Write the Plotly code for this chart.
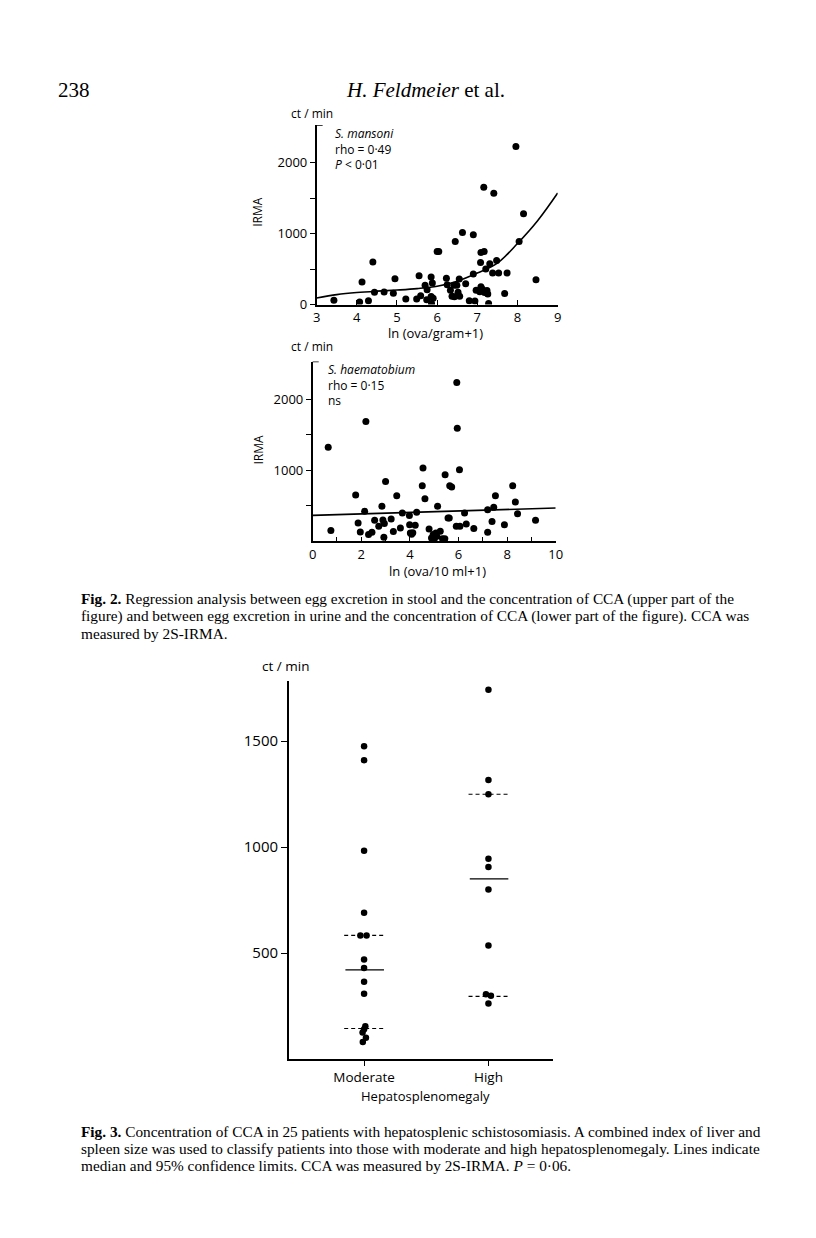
import plotly.graph_objects as go

# ---- data ----
# Fig. 2 upper: S. mansoni
x_man = [3.43, 4.07, 4.13, 4.29, 4.40, 4.44, 4.68, 4.91, 4.95, 5.22,
         5.49, 5.55, 5.59, 5.70, 5.74, 5.75, 5.85, 5.85, 5.88, 5.86, 5.90,
         6.00, 6.04, 6.23, 6.25, 6.33, 6.37, 6.42, 6.43, 6.45, 6.49, 6.52,
         6.55, 6.56, 6.63, 6.71, 6.80, 6.90, 6.90, 6.94, 6.97, 7.06, 7.09,
         7.12, 7.15, 7.18, 7.09, 7.17, 7.08, 7.21, 7.24, 7.26, 7.28, 7.31,
         7.38, 7.41, 7.16, 7.48, 7.53, 7.68, 7.74, 7.96, 8.04, 8.15, 8.46]
y_man = [60, 38, 319, 56, 600, 173, 178, 159, 365, 80,
         80, 407, 126, 271, 70, 211, 389, 113, 304, 14, 90,
         749, 749, 370, 281, 201, 117, 271, 112, 890, 271, 173,
         361, 117, 1016, 295, 56, 984, 431, 51, 201, 182, 250,
         220, 195, 170, 735, 749, 594, 501, 200, 150, 15, 576,
         445, 1569, 1653, 622, 445, 155, 445, 2225, 890, 1279, 351]
# fitted curve
fit_man_x = [3, 3.5, 4, 4.5, 5, 5.5, 6, 6.5, 7, 7.5, 8, 8.5, 9]
fit_man_y = [94, 140, 170, 190, 205, 225, 258, 330, 445, 585, 860, 1180, 1570]

# Fig. 2 lower: S. haematobium
x_hae = [0.64, 0.75, 1.77, 1.87, 1.96, 2.14, 2.19, 2.30, 2.44, 2.55,
         2.72, 2.85, 2.89, 2.95, 2.93, 3.00, 3.23, 3.32, 3.46, 3.61,
         3.69, 3.98, 3.99, 4.02, 4.07, 4.12, 4.28, 4.22, 4.51, 4.54,
         4.62, 4.79, 4.89, 4.96, 5.01, 5.07, 5.11, 5.14, 5.25, 5.34,
         5.44, 5.45, 5.57, 5.62, 5.64, 5.72, 5.91, 5.93, 5.95, 6.06,
         6.04, 6.25, 6.32, 6.63, 7.20, 7.20, 7.38, 7.45, 7.52, 7.89,
         8.23, 8.34, 8.43, 9.17]
y_hae = [1325, 150, 652, 258, 132, 422, 1686, 94, 127, 295,
         211, 492, 300, 250, 56, 843, 314, 136, 642, 187,
         398, 361, 234, 117, 100, 120, 407, 225, 783, 1030,
         600, 173, 47, 94, 37, 117, 70, 492, 141, 37,
         37, 937, 328, 328, 782, 763, 211, 2234, 1592, 211,
         1007, 398, 244, 178, 445, 127, 277, 478, 642, 234,
         782, 553, 389, 295]
fit_hae_x = [0, 10]
fit_hae_y = [365, 468]

# Fig. 3
groups = ["Moderate", "High"]
moderate = [1475, 1410, 982, 690, 583, 583, 469, 429, 365, 308, 155, 140, 125, 100, 80]
high = [1742, 1316, 1249, 945, 906, 800, 536, 305, 298, 262]
moderate_jit = [0, 0, 0, 0, -0.03, 0.02, 0, 0, 0, 0, 0.01, 0, -0.012, 0.015, -0.01]
high_jit = [0, 0, 0, 0, 0, 0, 0, -0.02, 0.02, 0]
medians = [421, 850]
ci_low = [144, 296]
ci_high = [583, 1249]

# the html body keeps an 8px margin, so the figure sits at (8, 8);
# keep it a little smaller than the window so nothing overflows.
# SC nudges page positions out slightly (rendered page came out ~0.6% small)
OFF = 8
SC = 1.006
W, H = 795, 1215
FONT = "Open Sans"
SERIF = "Liberation Serif"

def px(a):
    return (a * SC - OFF) / W

def py(a):
    return 1 - (a * SC - OFF) / H

def dom_x(a, b):
    return [px(a), px(b)]

def dom_y(top, bottom):
    return [py(bottom), py(top)]

dot = dict(color="black", size=7)
fig = go.Figure()

fig.add_trace(go.Scatter(x=x_man, y=y_man, mode="markers", marker=dot,
                         xaxis="x", yaxis="y"))
fig.add_trace(go.Scatter(x=fit_man_x, y=fit_man_y, mode="lines",
                         line=dict(color="black", width=1.6, shape="spline"),
                         xaxis="x", yaxis="y"))
fig.add_trace(go.Scatter(x=x_hae, y=y_hae, mode="markers", marker=dot,
                         xaxis="x2", yaxis="y2"))
fig.add_trace(go.Scatter(x=fit_hae_x, y=fit_hae_y, mode="lines",
                         line=dict(color="black", width=1.6),
                         xaxis="x2", yaxis="y2"))

# fig 3 dots
fig.add_trace(go.Scatter(x=[0 + j for j in moderate_jit], y=moderate, mode="markers",
                         marker=dict(color="black", size=6.5), xaxis="x3", yaxis="y3"))
fig.add_trace(go.Scatter(x=[1 + j for j in high_jit], y=high, mode="markers",
                         marker=dict(color="black", size=6.5), xaxis="x3", yaxis="y3"))
# median and confidence lines
for i in range(len(groups)):
    fig.add_trace(go.Scatter(x=[i - 0.15, i + 0.16], y=[medians[i]] * 2, mode="lines",
                             line=dict(color="black", width=1.2), xaxis="x3", yaxis="y3"))
    for v in (ci_low[i], ci_high[i]):
        fig.add_trace(go.Scatter(x=[i - 0.16, i + 0.17], y=[v, v], mode="lines",
                                 line=dict(color="black", width=1.2, dash="4px,3px"),
                                 xaxis="x3", yaxis="y3"))

ax = dict(showgrid=False, zeroline=False, showline=True, linecolor="black",
          linewidth=1.5, tickcolor="black", tickwidth=1.3,
          tickfont=dict(family=FONT, size=13, color="black"))

fig.update_layout(
    width=W, height=H, margin=dict(l=0, r=0, t=0, b=0),
    paper_bgcolor="white", plot_bgcolor="white", showlegend=False,
    xaxis=dict(ax, domain=dom_x(315, 558), range=[3, 9], anchor="y",
               tickvals=list(range(3, 10)), ticks="inside", ticklen=5),
    yaxis=dict(ax, domain=dom_y(125, 305), range=[0, 2530], anchor="x",
               tickvals=[0, 500, 1000, 1500, 2000], ticktext=["0", "", "1000", "", "2000"],
               ticks="outside", ticklen=5),
    xaxis2=dict(ax, domain=dom_x(311, 556), range=[0, 10], anchor="y2",
                tickvals=list(range(0, 11)),
                ticktext=["0", "", "2", "", "4", "", "6", "", "8", "", "10"],
                ticks="inside", ticklen=5),
    yaxis2=dict(ax, domain=dom_y(362, 542), range=[0, 2530], anchor="x2",
                tickvals=[500, 1000, 1500, 2000], ticktext=["", "1000", "", "2000"],
                ticks="outside", ticklen=5),
    xaxis3=dict(ax, domain=dom_x(287, 553), range=[-0.605, 1.517], anchor="y3",
                tickvals=[0, 1], ticktext=groups, ticks="outside", ticklen=5,
                tickfont=dict(family=FONT, size=13.5, color="black")),
    yaxis3=dict(ax, domain=dom_y(682, 1060.5), range=[0, 1783], anchor="x3",
                tickvals=[500, 1000, 1500], ticks="outside", ticklen=6,
                tickfont=dict(family=FONT, size=15, color="black")),
)

# little inward caps at the top of the Fig. 2 y axes
for xr, yr in (("x domain", "y"), ("x2 domain", "y2")):
    fig.add_shape(type="line", xref=xr, yref=yr, x0=0, x1=0.025, y0=2530, y1=2530,
                  line=dict(color="black", width=1.5))

def txt(x, y, s, size=12, family=FONT, xanchor="left", yanchor="middle", angle=0):
    fig.add_annotation(x=px(x), y=py(y), xref="paper", yref="paper",
                       text=s, showarrow=False, xanchor=xanchor, yanchor=yanchor,
                       textangle=angle, borderpad=0, align="left",
                       font=dict(family=family, size=size, color="black"))

# page header
txt(53, 90, "238", size=21, family=SERIF)
txt(425, 90, "<i>H. Feldmeier</i> et al.", size=21, family=SERIF, xanchor="center")

# Fig. 2 upper labels
txt(310, 114, "ct / min", xanchor="center")
txt(256, 212, "IRMA", size=12, angle=-90, xanchor="center")
txt(333, 124, "<i>S. mansoni</i><br>rho = 0·49<br><i>P</i> < 0·01", size=12, yanchor="top")
txt(435, 333, "ln (ova/gram+1)", size=13, xanchor="center")

# Fig. 2 lower labels
txt(310, 347, "ct / min", xanchor="center")
txt(256, 450, "IRMA", size=12, angle=-90, xanchor="center")
txt(325, 360, "<i>S. haematobium</i><br>rho = 0·15<br>ns", size=12, yanchor="top")
txt(437, 572, "ln (ova/10 ml+1)", size=13, xanchor="center")

# Fig. 3 labels
txt(284, 667, "ct / min", size=13.5, xanchor="center")
txt(425, 1098, "Hepatosplenomegaly", size=13, xanchor="center")

cap2 = ["<b>Fig. 2.</b> Regression analysis between egg excretion in stool and the concentration of CCA (upper part of the",
        "figure) and between egg excretion in urine and the concentration of CCA (lower part of the figure). CCA was",
        "measured by 2S-IRMA."]
cap3 = ["<b>Fig. 3.</b> Concentration of CCA in 25 patients with hepatosplenic schistosomiasis. A combined index of liver and",
        "spleen size was used to classify patients into those with moderate and high hepatosplenomegaly. Lines indicate",
        "median and 95% confidence limits. CCA was measured by 2S-IRMA. <i>P</i> = 0·06."]
for k, line in enumerate(cap2):
    txt(76, 600 + 17 * k, line, size=15.3, family=SERIF)
for k, line in enumerate(cap3):
    txt(76, 1133 + 17 * k, line, size=15.3, family=SERIF)

fig.write_html("out.html")
